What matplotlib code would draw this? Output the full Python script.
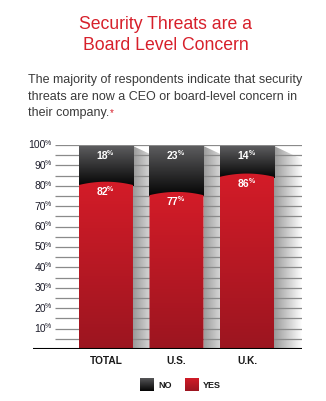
import matplotlib
matplotlib.use("Agg")
import matplotlib.pyplot as plt
import numpy as np
from matplotlib.patches import Polygon
from matplotlib.colors import to_rgb

categories = ['TOTAL', 'U.S.', 'U.K.']
yes = [82, 77, 86]
no = [18, 23, 14]
yticks = [10, 20, 30, 40, 50, 60, 70, 80, 90, 100]

RED = '#d7202b'
BAR_W = 0.766
SHADOW_W = 0.4

plt.rcParams['font.family'] = ['Liberation Sans', 'DejaVu Sans']


def grad(c_top, c_bot, n=64):
    # rows go bottom -> top (use origin='lower')
    a = np.array(to_rgb(c_bot))
    b = np.array(to_rgb(c_top))
    t = np.linspace(0, 1, n)[:, None]
    return (a + (b - a) * t)[:, None, :]


def hgrad(c_left, c_right, n=64):
    a = np.array(to_rgb(c_left))
    b = np.array(to_rgb(c_right))
    t = np.linspace(0, 1, n)[:, None]
    return (a + (b - a) * t)[None, :, :]


fig = plt.figure(figsize=(3.26, 4.02), dpi=100)
fig.patch.set_facecolor('white')

# title + intro text
fig.text(166 / 326, 1 - 35 / 402, 'Security Threats are a\nBoard Level Concern',
         ha='center', va='center', color=RED, fontsize=12.7, linespacing=1.32)
intro = ['The majority of respondents indicate that security',
         'threats are now a CEO or board-level concern in',
         'their company.']
for i, line in enumerate(intro):
    t = fig.text(28 / 326, 1 - (80 + 16.5 * i) / 402, line,
                 ha='left', va='center', color='#3a3a3a', fontsize=9)
fig.canvas.draw()
lb = t.get_window_extent()
fig.text(lb.x1 / fig.bbox.width + 0.002, lb.y1 / fig.bbox.height - 0.003, '*', color=RED,
         fontsize=7, ha='left', va='top')

ax = fig.add_axes([33 / 326, 52 / 402, 269 / 326, 204 / 402])
for s in ax.spines.values():
    s.set_visible(False)

x = np.arange(len(categories))
xl, xr = -1.035, 2.78

# shadows behind the bars
for xi in x:
    r = xi + BAR_W / 2
    sh = ax.imshow(hgrad('#9a9a9a', '#ffffff'), extent=[r, r + SHADOW_W, 0, 100],
                   origin='lower', aspect='auto', zorder=1, interpolation='bilinear')
    poly = Polygon([[r, 0], [r, 99.5], [r + SHADOW_W, 93], [r + SHADOW_W, 0]],
                   closed=True, transform=ax.transData, facecolor='none', edgecolor='none')
    ax.add_patch(poly)
    sh.set_clip_path(poly)

# grid lines (every 5%)
for g in range(5, 101, 5):
    ax.plot([-0.72, xr], [g, g], color='#8a8a8a', lw=0.9, zorder=2, solid_capstyle='butt')
ax.plot([xl, xr], [0, 0], color='black', lw=1.5, zorder=6, solid_capstyle='butt')

# stacked bars
for xi, y, n in zip(x, yes, no):
    x0, x1 = xi - BAR_W / 2, xi + BAR_W / 2
    top = y + n
    ax.imshow(grad('#5c5c5e', '#050505'), extent=[x0, x1, y - 2, top - 0.5],
              origin='lower', aspect='auto', zorder=3, interpolation='bilinear')
    xs = np.linspace(x0, x1, 40)
    ys = y - 1.6 * ((xs - xi) / (BAR_W / 2)) ** 2
    pts = [[x0, 0]] + list(zip(xs, ys)) + [[x1, 0]]
    clip = Polygon(pts, closed=True, transform=ax.transData, facecolor='none', edgecolor='none')
    ax.add_patch(clip)
    red = ax.imshow(grad('#d41c28', '#9c1520'), extent=[x0, x1, 0, y + 1],
                    origin='lower', aspect='auto', zorder=4, interpolation='bilinear')
    red.set_clip_path(clip)

    for val, ty in ((y, y - 4.5), (n, 95)):
        ax.annotate(str(val), (xi, ty), xytext=(1.5, 0), textcoords='offset points',
                    ha='right', va='center', color='white', fontsize=7.5,
                    fontweight='bold', zorder=7)
        ax.annotate('%', (xi, ty), xytext=(1.0, 1.8), textcoords='offset points',
                    ha='left', va='center', color='white', fontsize=5,
                    fontweight='bold', zorder=7)

# y tick labels with small raised %
for t in yticks:
    ax.annotate(str(t), (-0.851, t), xytext=(0, 0.5), textcoords='offset points',
                ha='right', va='center', fontsize=7.5, color='#1c1c2a', annotation_clip=False)
    ax.annotate('%', (-0.851, t), xytext=(-0.6, 2), textcoords='offset points',
                ha='left', va='center', fontsize=5, color='#1c1c2a', annotation_clip=False)

ax.set_xticks(x)
ax.set_xticklabels(categories, fontweight='bold', fontsize=7.3, color='#1a1a1a')
ax.tick_params(axis='x', length=0, pad=4.5)
ax.set_yticks([])
ax.set_xlim(xl, xr)
ax.set_ylim(0, 100)

# legend
for lx, ctop, cbot, lab in ((140, '#5c5c5e', '#050505', 'NO'), (185, '#d41c28', '#9c1520', 'YES')):
    lax = fig.add_axes([lx / 326, 1 - 392 / 402, 13.5 / 326, 13.5 / 402])
    lax.imshow(grad(ctop, cbot), extent=[0, 1, 0, 1], origin='lower',
               aspect='auto', interpolation='bilinear')
    lax.set_axis_off()
    fig.text((lx + 18) / 326, 1 - 386 / 402, lab, ha='left', va='center',
             fontsize=6.5, fontweight='bold', color='#1a1a1a')

fig.savefig('out.png', dpi=100)
